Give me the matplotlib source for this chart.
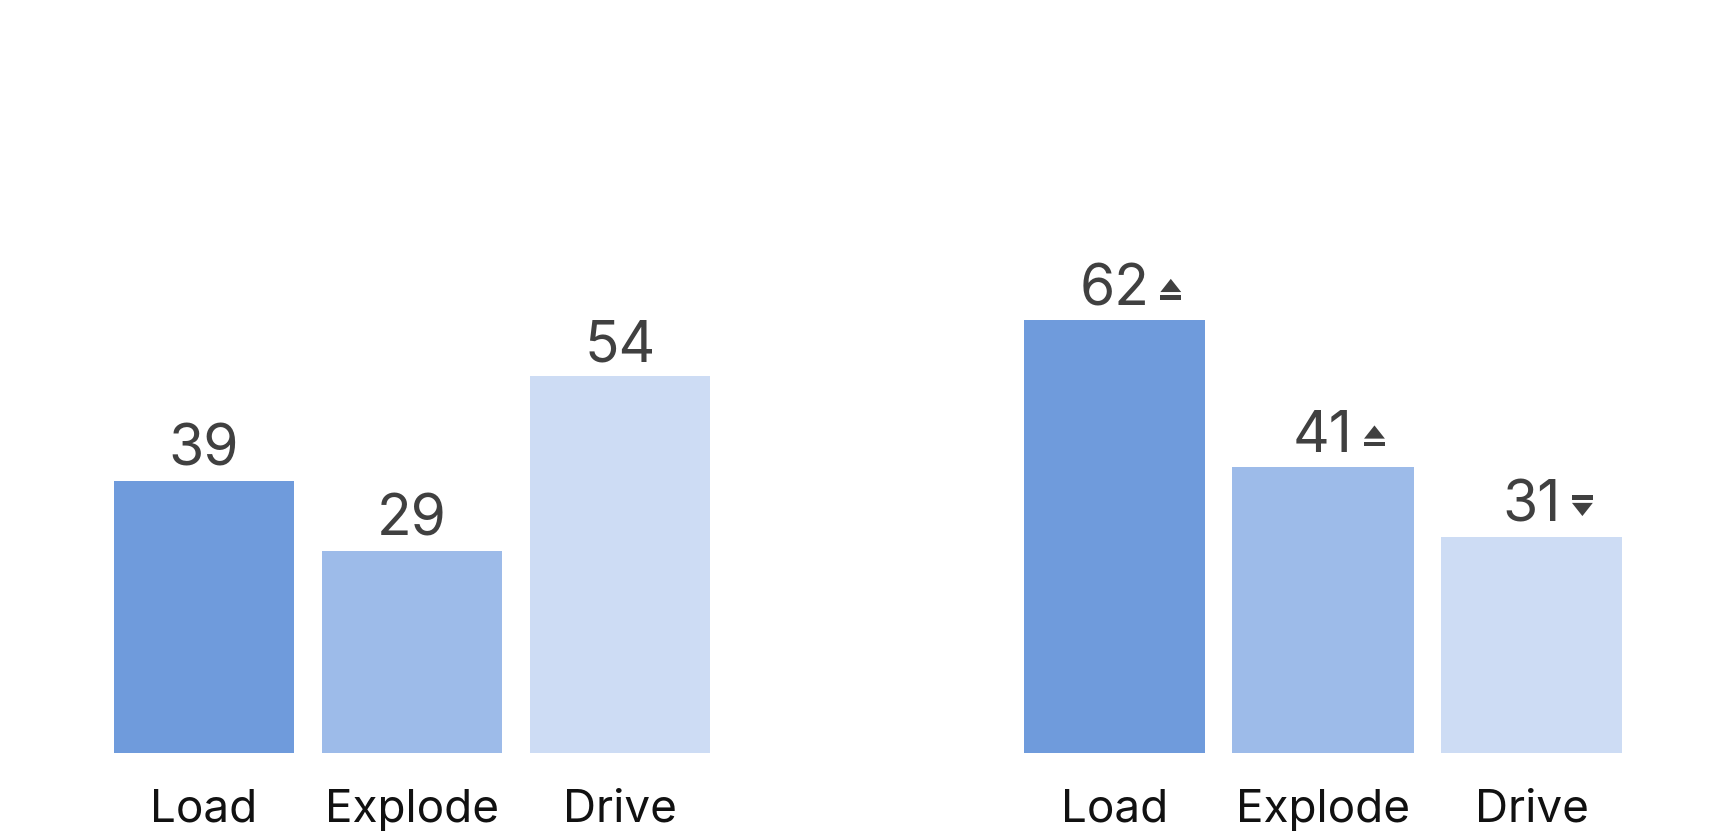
import matplotlib
matplotlib.use("Agg")
import matplotlib.pyplot as plt
from matplotlib.offsetbox import DrawingArea, AnnotationBbox
from matplotlib.patches import Polygon, Rectangle

categories = ["Load", "Explode", "Drive"]
before = [39, 29, 54]
after = [62, 41, 31]
trend = ["up", "up", "down"]

colors = ["#6f9bdc", "#9dbbe9", "#cddcf4"]
txt_col = "#404040"

plt.rcParams['font.family'] = ['Inter', 'DejaVu Sans']

fig = plt.figure(figsize=(17.13, 8.37), dpi=100)
W, H = 1713, 837


def arrow_box(direction):
    # small trend marker: triangle with a bar under (up) or over (down)
    da = DrawingArea(15, 15, 0, 0)
    if direction == "up":
        da.add_artist(Polygon([[0, 5.5], [15, 5.5], [7.5, 15]], closed=True,
                              fc=txt_col, ec="none"))
        da.add_artist(Rectangle((0, 0), 15, 3.2, fc=txt_col, ec="none"))
    else:
        da.add_artist(Polygon([[0, 9.5], [15, 9.5], [7.5, 0]], closed=True,
                              fc=txt_col, ec="none"))
        da.add_artist(Rectangle((0, 11.8), 15, 3.2, fc=txt_col, ec="none"))
    return da


def panel(left_px, right_px, values, arrows=None):
    ax = fig.add_axes([left_px / W, 83 / H, (right_px - left_px) / W, 698 / H])
    x = range(len(categories))
    ax.bar(x, values, width=0.87, color=colors)
    ax.set_xlim(-0.5, len(categories) - 0.5)
    ax.set_ylim(0, 100)
    ax.set_xticks(list(x))
    ax.set_xticklabels(categories, fontsize=33, color="#111111")
    ax.tick_params(axis="x", length=0, pad=25)
    ax.set_yticks([])
    for s in ax.spines.values():
        s.set_visible(False)
    for i, v in enumerate(values):
        t = ax.annotate(str(v), xy=(i, v), xytext=(0, 11.5), textcoords="offset points",
                        ha="center", va="baseline", fontsize=41, color=txt_col)
        if arrows is not None:
            ab = AnnotationBbox(arrow_box(arrows[i]), (1, 0.5), xycoords=t,
                                xybox=(8, 0), boxcoords="offset points",
                                box_alignment=(0, 0.5), frameon=False, pad=0)
            ax.add_artist(ab)
    return ax


panel(100, 724, before)
panel(1010, 1636, after, trend)

fig.savefig("out.png", dpi=100)
